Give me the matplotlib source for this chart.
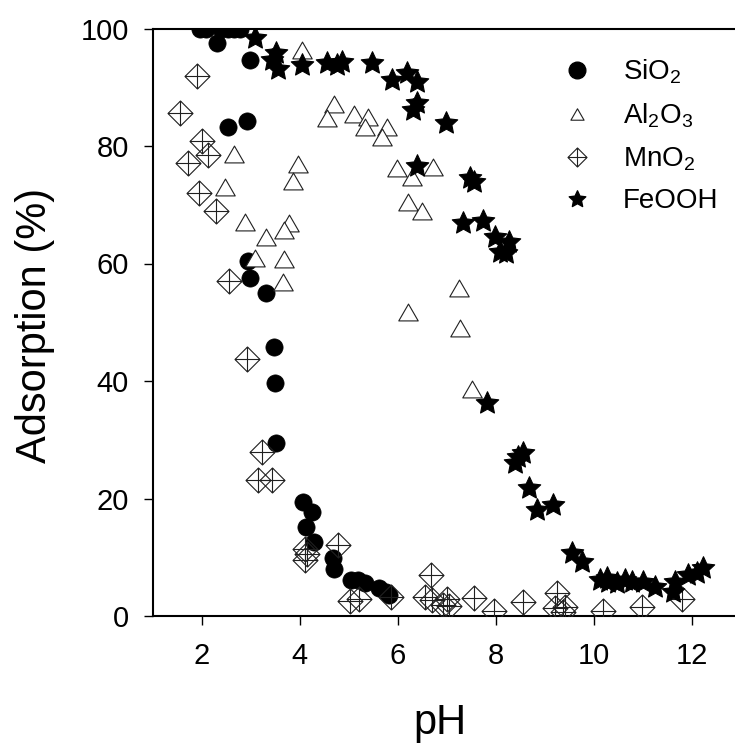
import matplotlib
matplotlib.use("Agg")
import matplotlib.pyplot as plt
from matplotlib.path import Path
from matplotlib.lines import Line2D

plt.rcParams['font.family'] = ['Liberation Sans', 'DejaVu Sans']
plt.rcParams['mathtext.fontset'] = 'custom'
plt.rcParams['mathtext.rm'] = 'Liberation Sans'
plt.rcParams['mathtext.it'] = 'Liberation Sans:italic'
plt.rcParams['mathtext.bf'] = 'Liberation Sans:bold'
plt.rcParams['mathtext.default'] = 'regular'

# ---------------- data ----------------
sio2_ph = [1.97, 2.09, 2.38, 2.54, 2.66, 2.78, 2.30, 2.98, 2.53, 2.92, 2.94, 2.98, 3.30,
           3.47, 3.49, 3.52, 4.06, 4.24, 4.12, 4.28, 4.67, 4.69, 5.05, 5.18, 5.32, 5.62,
           5.76, 5.83]
sio2_ads = [100, 100, 100, 100, 100, 100, 97.5, 94.7, 83.2, 84.2, 60.5, 57.5, 55.0,
            45.8, 39.6, 29.4, 19.4, 17.7, 15.1, 12.6, 9.9, 8.0, 6.1, 6.1, 5.7, 4.7,
            4.1, 3.6]

al2o3_ph = [4.04, 4.69, 4.55, 5.10, 5.40, 5.34, 5.77, 5.67, 2.65, 3.96, 3.85, 2.47,
            2.88, 3.77, 3.68, 3.30, 3.09, 3.68, 3.66, 5.98, 6.30, 6.72, 6.20, 6.50,
            7.24, 6.20, 7.27, 7.52]
al2o3_ads = [96.3, 87.1, 84.7, 85.4, 85.0, 83.2, 83.2, 81.5, 78.7, 77.0, 74.0, 73.0,
             67.0, 66.9, 65.7, 64.5, 60.9, 60.8, 56.9, 76.3, 74.8, 76.5, 70.4, 69.0,
             55.8, 51.7, 49.0, 38.6]

mno2_ph = [1.89, 1.56, 2.01, 2.13, 1.72, 1.93, 2.28, 2.56, 2.93, 3.23, 3.15, 3.44,
           4.11, 4.15, 4.11, 4.77, 5.03, 5.21, 5.87, 6.68, 6.56, 6.70, 6.93, 7.01,
           7.04, 7.55, 7.97, 8.56, 9.25, 9.22, 9.42, 9.38, 10.20, 10.99, 11.80]
mno2_ads = [91.9, 85.6, 80.9, 78.5, 77.1, 72.0, 68.9, 57.0, 43.7, 27.9, 23.1, 23.1,
            11.4, 10.6, 9.5, 12.1, 2.6, 2.9, 3.2, 7.0, 3.3, 2.7, 1.9, 2.9,
            1.7, 3.0, 0.9, 2.4, 3.9, 1.4, 1.6, 0.6, 0.8, 1.5, 2.9]

feooh_ph = [3.09, 3.52, 3.44, 3.56, 4.05, 4.56, 4.87, 4.76, 5.48, 5.89, 6.19, 6.40,
            6.40, 6.32, 6.99, 6.40, 7.47, 7.55, 7.34, 7.74, 7.99, 8.28, 8.09, 8.21,
            7.83, 8.46, 8.40, 8.56, 8.67, 8.85, 9.17, 9.56, 9.77, 10.13, 10.28, 10.30,
            10.48, 10.64, 10.79, 11.01, 11.26, 11.62, 11.66, 11.93, 12.11, 12.24]
feooh_ads = [98.4, 95.8, 94.6, 93.1, 93.8, 94.1, 94.3, 93.8, 94.1, 91.2, 92.4, 90.9,
             87.3, 86.1, 83.9, 76.6, 74.5, 73.8, 66.9, 67.2, 64.5, 63.7, 62.0, 61.8,
             36.3, 27.1, 26.0, 27.7, 21.8, 18.0, 18.9, 10.7, 9.2, 6.1, 6.5, 5.8,
             5.6, 6.1, 5.8, 5.8, 4.9, 4.1, 5.8, 7.0, 7.3, 8.2]

labels = ['SiO$_2$', 'Al$_2$O$_3$', 'MnO$_2$', 'FeOOH']
x_ticks = [2, 4, 6, 8, 10, 12]
y_ticks = [0, 20, 40, 60, 80, 100]

# ---------------- marker shapes ----------------
tri_marker = Path([(-1, -0.866), (1, -0.866), (0, 0.866), (-1, -0.866)],
                  [Path.MOVETO, Path.LINETO, Path.LINETO, Path.CLOSEPOLY])
dia_marker = Path([(0, 1), (1, 0), (0, -1), (-1, 0), (0, 1),
                   (-1, 0), (1, 0), (0, -1), (0, 1)],
                  [Path.MOVETO, Path.LINETO, Path.LINETO, Path.LINETO, Path.CLOSEPOLY,
                   Path.MOVETO, Path.LINETO, Path.MOVETO, Path.LINETO])
star_marker = Path.unit_regular_star(5, 0.48)

# ---------------- figure ----------------
fig = plt.figure(figsize=(7.35, 7.45), dpi=100)
W, H = 735.0, 745.0
x0, x1 = 153.0, 740.5
y_top, y_bot = 28.5, 616.0
ax = fig.add_axes([x0 / W, 1 - y_bot / H, (x1 - x0) / W, (y_bot - y_top) / H])
ax.patch.set_alpha(0)

ax.plot(sio2_ph, sio2_ads, linestyle='none', marker='o', ms=12.4,
        mfc='black', mec='black', mew=0.5, zorder=3)
ax.plot(al2o3_ph, al2o3_ads, linestyle='none', marker=tri_marker, ms=14,
        mfc='white', mec='#202020', mew=0.8, zorder=4)
ax.plot(mno2_ph, mno2_ads, linestyle='none', marker=dia_marker, ms=18,
        mfc='none', mec='#202020', mew=0.8, zorder=5)
ax.plot(feooh_ph, feooh_ads, linestyle='none', marker=star_marker, ms=17,
        mfc='black', mec='black', mew=0.8, zorder=6)

ax.set_xlim(1, 13)
ax.set_ylim(0, 100)
ax.set_xticks(x_ticks)
ax.set_yticks(y_ticks)
ax.tick_params(direction='out', length=6.5, width=1.0, labelsize=21)
ax.tick_params(axis='x', pad=12)
ax.tick_params(axis='y', pad=11)
for s in ['left', 'bottom', 'top', 'right']:
    ax.spines[s].set_linewidth(1.5)

ax.set_xlabel('pH', fontsize=30)
ax.xaxis.set_label_coords((440 - x0) / (x1 - x0), (y_bot - 734) / (y_bot - y_top))
ax.xaxis.label.set_va('baseline')
ax.set_ylabel('Adsorption (%)', fontsize=30)
ax.yaxis.set_label_coords((35 - x0) / (x1 - x0), (y_bot - 325) / (y_bot - y_top))
ax.yaxis.label.set_va('center')

handles = [
    Line2D([], [], linestyle='none', marker='o', ms=12, mfc='black', mec='black'),
    Line2D([], [], linestyle='none', marker=tri_marker, ms=9.5, mfc='white', mec='#202020', mew=0.8),
    Line2D([], [], linestyle='none', marker=dia_marker, ms=13.7, mfc='none', mec='#202020', mew=0.8),
    Line2D([], [], linestyle='none', marker=star_marker, ms=12.5, mfc='black', mec='black'),
]
leg = ax.legend(handles, labels, loc='upper left',
                bbox_to_anchor=(556 / W, 1 - 58 / H), bbox_transform=fig.transFigure,
                frameon=False, fontsize=20, handlelength=1.5, handletextpad=0.9,
                labelspacing=0.55, borderpad=0, borderaxespad=0, numpoints=1)

fig.savefig('out.png', dpi=100)
